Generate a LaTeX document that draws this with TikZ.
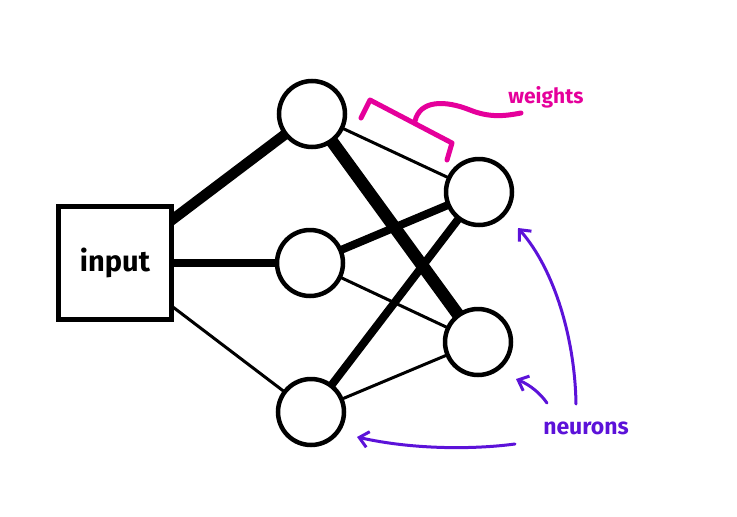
\documentclass[tikz,border=0pt]{standalone}
\usepackage{fontspec}
\setmainfont{Fira Sans}
\usetikzlibrary{arrows.meta}
\definecolor{wcol}{HTML}{E5009B}
\definecolor{ncol}{HTML}{5C12D9}
\pgfdeclarelayer{edges}
\pgfsetlayers{edges,main}
\begin{document}
\begin{tikzpicture}[x=1pt,y=-1pt,
  neuron/.style={circle,draw=black,line width=4.5pt,fill=white,minimum size=66pt,inner sep=0pt},
  inbox/.style={rectangle,draw=black,line width=4.5pt,fill=white,minimum size=113pt,inner sep=0pt,font=\fontsize{29}{32}\selectfont\bfseries},
  thin/.style={line width=3pt},
  mid/.style={line width=8pt},
  heavy/.style={line width=10.5pt},
  heaviest/.style={line width=12.5pt},
  note/.style={line width=3pt,line cap=round,color=ncol,-{Straight Barb[length=9pt,width=16pt,line width=3pt]}}]
\useasboundingbox (0,0) rectangle (737,517);
% layers of the network
\node[inbox] (in) at (115,263) {input};
\node[neuron] (h1) at (312,114) {};
\node[neuron] (h2) at (310,263) {};
\node[neuron] (h3) at (311,412) {};
\node[neuron] (o1) at (479,192) {};
\node[neuron] (o2) at (478,342) {};
% weighted connections, drawn beneath the nodes
\begin{pgfonlayer}{edges}
\draw[heavy] (in.center) -- (h1.center);
\draw[mid] (in.center) -- (h2.center);
\draw[thin] (in.center) -- (h3.center);
\draw[thin] (h1.center) -- (o1.center);
\draw[heaviest] (h1.center) -- (o2.center);
\draw[mid] (h2.center) -- (o1.center);
\draw[thin] (h2.center) -- (o2.center);
\draw[mid] (h3.center) -- (o1.center);
\draw[thin] (h3.center) -- (o2.center);
\end{pgfonlayer}
% weights brace
\coordinate (b1) at (361,118);
\coordinate (b2) at (370,100);
\coordinate (b3) at (452,143);
\coordinate (b4) at (447,160);
\coordinate (bs) at (415,121);
\coordinate (bt) at (521,113);
\draw[wcol,line width=5pt,line cap=round,line join=round] (b1) -- (b2) -- (b3) -- (b4);
\draw[wcol,line width=5pt,line cap=round] (bs) .. controls (420,100) and (445,100) .. (470,110) .. controls (490,118) and (505,116) .. (bt);
\node[text=wcol,font=\fontsize{21}{24}\selectfont\bfseries,anchor=center] (wlab) at (546,97) {weights};
% neurons annotation
\node[text=ncol,font=\fontsize{23}{26}\selectfont\bfseries,anchor=center] (nlab) at (586,428) {neurons};
\coordinate (t1) at (576,404);
\coordinate (t2) at (547,403);
\coordinate (t3) at (515,444);
\draw[note] (t1) .. controls (575,340) and (555,270) .. (518,228);
\draw[note] (t2) .. controls (540,393) and (530,385) .. (516,379);
\draw[note] (t3) .. controls (470,450) and (410,449) .. (357,437);
\end{tikzpicture}
\end{document}
